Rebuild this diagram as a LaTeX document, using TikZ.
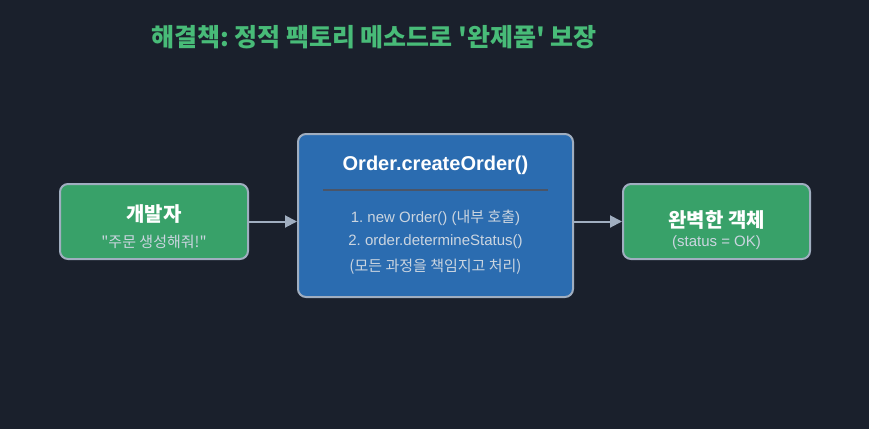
\documentclass[tikz,border=0pt]{standalone}
\usepackage{fontspec}
\setmainfont{Liberation Sans}
\newfontfamily\kr{Noto Sans CJK KR}
\usetikzlibrary{arrows.meta}
\frenchspacing
\definecolor{bg}{HTML}{1A202C}
\definecolor{gbox}{HTML}{38A169}
\definecolor{bbox}{HTML}{2B6CB0}
\definecolor{edge}{HTML}{A0AEC0}
\definecolor{ttl}{HTML}{48BB78}
\definecolor{sub}{HTML}{CBD5E0}
\definecolor{divi}{HTML}{4A5568}
\tikzset{
  box/.style={draw=edge, line width=2pt, rounded corners=8pt, inner sep=0pt},
  arr/.style={draw=edge, line width=2pt, -{Triangle[length=12pt,width=12pt]}},
  txt/.style={inner sep=0pt, anchor=center},
  head/.style={txt, text=white, font=\fontsize{19}{22}\selectfont\bfseries},
  small/.style={txt, text=sub, font=\fontsize{15}{18}\selectfont},
}
\begin{document}
\begin{tikzpicture}[x=1pt,y=-1pt]
\fill[bg] (0,0) rectangle (869,429);
\useasboundingbox (0,0) rectangle (869,429);
\node[txt, text=ttl, font=\fontsize{25}{30}\selectfont\bfseries\kr] (title) at (374,37) {해결책: 정적 팩토리 메소드로 '완제품' 보장};
\node[box, fill=gbox, minimum width=188pt, minimum height=75pt] (dev) at (154,221.5) {};
\node[box, fill=bbox, minimum width=275pt, minimum height=163pt] (mid) at (435.5,215.5) {};
\node[box, fill=gbox, minimum width=187pt, minimum height=75pt] (obj) at (716.5,221.5) {};
\node[head, font=\fontsize{20}{24}\selectfont\bfseries\kr] (devt) at (154,214.5) {개발자};
\node[small, font=\fontsize{15}{18}\selectfont\kr] (devs) at (154,241.5) {"주문 생성해줘!"};
\node[head, font=\fontsize{20}{24}\selectfont\bfseries] (midt) at (435.5,165.5) {Order.createOrder()};
\draw[divi, line width=1.2pt] (323,190) -- (548,190);
\node[small] (l1) at (435.5,218) {1. new Order() ({\kr 내부 호출})};
\node[small] (l2) at (435.5,242) {2. order.determineStatus()};
\node[small, font=\fontsize{15}{18}\selectfont\kr] (l3) at (435.5,267) {(모든 과정을 책임지고 처리)};
\node[head, font=\fontsize{20}{24}\selectfont\bfseries\kr] (objt) at (716.5,219.5) {완벽한 객체};
\node[small] (objs) at (716.5,243) {(status = OK)};
\draw[arr] (dev.east) -- (dev.east -| mid.west);
\draw[arr] (mid.east |- obj.west) -- (obj.west);
\end{tikzpicture}
\end{document}
